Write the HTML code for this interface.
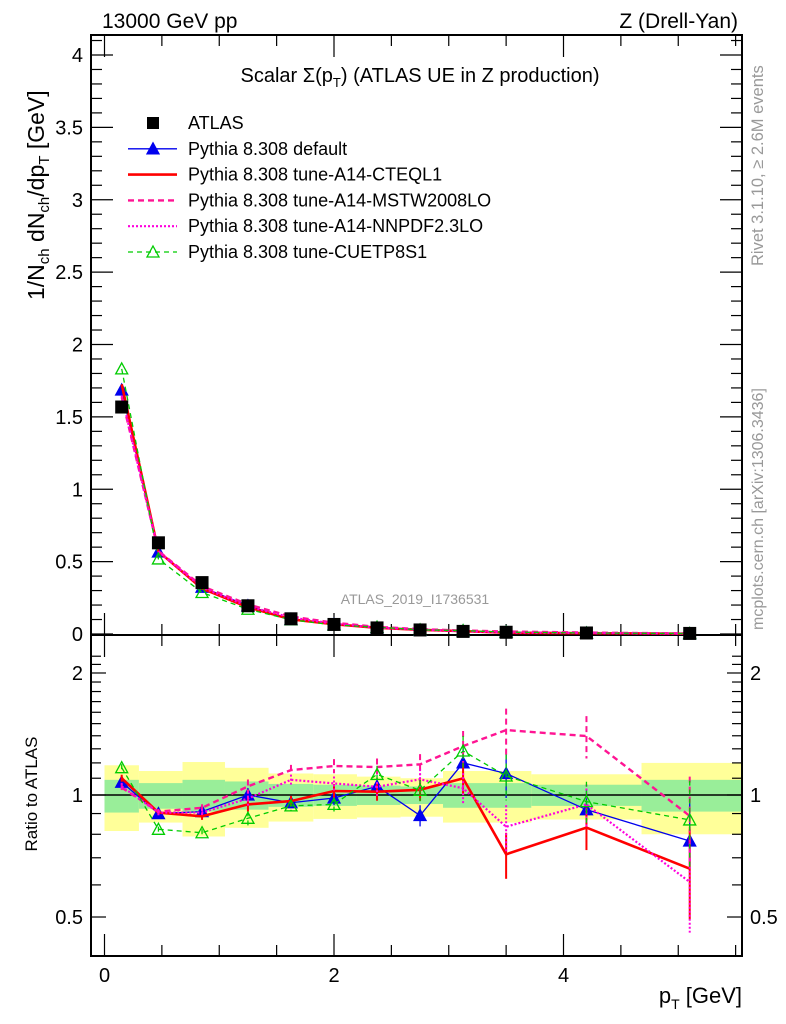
<!DOCTYPE html>
<html><head><meta charset="utf-8"><style>
body{margin:0;background:#fff;}
svg{display:block;font-family:"Liberation Sans","DejaVu Sans",sans-serif;}
</style></head><body>
<svg id="c" width="786" height="1024" viewBox="0 0 786 1024" xmlns="http://www.w3.org/2000/svg">
<text x="102" y="28" font-size="21">13000 GeV pp</text>
<text x="738" y="28" font-size="21" text-anchor="end">Z (Drell-Yan)</text>
<text x="420" y="82" font-size="20" text-anchor="middle">Scalar Σ(p<tspan font-size="13" dy="5">T</tspan><tspan dy="-5">) (ATLAS UE in Z production)</tspan></text>
<text transform="translate(763,266) rotate(-90)" font-size="16.5" fill="#999">Rivet 3.1.10, ≥ 2.6M events</text>
<text transform="translate(763,630) rotate(-90)" font-size="16" fill="#999">mcplots.cern.ch [arXiv:1306.3436]</text>
<text x="415" y="604" font-size="14" fill="#999" text-anchor="middle">ATLAS_2019_I1736531</text>
<text transform="translate(44,300) rotate(-90)" font-size="23">1/N<tspan font-size="15" dy="5">ch</tspan><tspan dy="-5"> dN</tspan><tspan font-size="15" dy="5">ch</tspan><tspan dy="-5">/dp</tspan><tspan font-size="15" dy="5">T</tspan><tspan dy="-5"> [GeV]</tspan></text>
<text transform="translate(37,794) rotate(-90)" font-size="17" text-anchor="middle">Ratio to ATLAS</text>
<text x="742" y="1003" font-size="22" text-anchor="end">p<tspan font-size="14" dy="6">T</tspan><tspan dy="-6"> [GeV]</tspan></text>
<g id="g"></g>
</svg>
<script>
const xVals=[0.15,0.47,0.85,1.25,1.625,2.0,2.375,2.75,3.125,3.5,4.2,5.1];
const atlas=[1.568,0.63,0.355,0.195,0.105,0.066,0.042,0.028,0.018,0.012,0.007,0.004];
const rDefault=[1.075,0.90,0.91,1.0,0.957,0.983,1.05,0.89,1.20,1.13,0.92,0.77];
const rCTEQ=[1.10,0.905,0.886,0.948,0.966,1.023,1.019,1.03,1.099,0.714,0.831,0.658];
const rMSTW=[1.043,0.91,0.93,1.05,1.152,1.179,1.172,1.19,1.32,1.446,1.398,0.888];
const rNNPDF=[1.05,0.905,0.905,0.98,1.09,1.068,1.048,1.093,1.039,0.835,0.948,0.61];
const rCUETP=[1.168,0.823,0.807,0.876,0.94,0.948,1.124,1.027,1.284,1.114,0.963,0.868];
const relErr=[0.02,0.015,0.02,0.04,0.03,0.04,0.05,0.06,0.09,0.13,0.12,0.25];
const binEdges=[0,0.3,0.68,1.05,1.43,1.82,2.2,2.58,2.95,3.72,4.68,5.55];
const bandYellowHi=[1.184,1.146,1.206,1.167,1.13,1.125,1.11,1.10,1.146,1.125,1.2];
const bandYellowLo=[0.815,0.855,0.79,0.83,0.86,0.873,0.88,0.884,0.855,0.87,0.8];
const bandGreenHi=[1.09,1.07,1.09,1.08,1.065,1.06,1.055,1.05,1.07,1.06,1.09];
const bandGreenLo=[0.905,0.925,0.91,0.92,0.935,0.94,0.945,0.95,0.93,0.94,0.91];
const mainTicks=[0,0.5,1,1.5,2,2.5,3,3.5,4];
const mainTickLabels=["0","0.5","1","1.5","2","2.5","3","3.5","4"];
const ratioTicks=[0.5,1,2];
const ratioTickLabels=["0.5","1","2"];
const xTicks=[0,2,4];
const xTickLabels=["0","2","4"];

const L=91,R=742,T=35,MB=635,RB=956;
const X=v=>104.5+v*114.75;
const Y=v=>634-v*144.75;
const YR=v=>795-405.3*Math.log10(v);
const NS="http://www.w3.org/2000/svg";
const g=document.getElementById('g');
function el(t,a,p){const e=document.createElementNS(NS,t);for(const k in a)e.setAttribute(k,a[k]);(p||g).appendChild(e);return e;}

for(let i=0;i<bandYellowHi.length;i++){
 const x0=X(binEdges[i]),x1=Math.min(R,X(binEdges[i+1]));
 const y=el('rect',{x:x0,y:YR(bandYellowHi[i]),width:x1-x0,height:YR(bandYellowLo[i])-YR(bandYellowHi[i]),fill:'#ffff99'});
 
 
 const gr=el('rect',{x:x0,y:YR(bandGreenHi[i]),width:x1-x0,height:YR(bandGreenLo[i])-YR(bandGreenHi[i]),fill:'#99ee99'});
 
 
}
const ref=el('line',{x1:L,x2:R,y1:YR(1),y2:YR(1),stroke:'#000','stroke-width':1.5});



const f1=el('rect',{x:L,y:T,width:R-L,height:MB-T,fill:'none',stroke:'#000','stroke-width':2});


const f2=el('rect',{x:L,y:MB,width:R-L,height:RB-MB,fill:'none',stroke:'#000','stroke-width':2});



for(let v=0;v<=4.15;v+=0.1){
 const vv=Math.round(v*10)/10;const major=Math.abs(vv*2-Math.round(vv*2))<1e-6;const len=major?22:11;const yy=Y(vv);
 el('line',{x1:L,x2:L+len,y1:yy,y2:yy,stroke:'#000','stroke-width':1.2});
 el('line',{x1:R,x2:R-len,y1:yy,y2:yy,stroke:'#000','stroke-width':1.2});
}
mainTicks.forEach((v,i)=>{const t=el('text',{x:83,y:Y(v)+7,'font-size':20,'text-anchor':'end'});t.textContent=mainTickLabels[i];
 
 });
[0.5,0.6,0.7,0.8,0.9,1,1.1,1.2,1.3,1.4,1.5,1.6,1.7,1.8,1.9,2,2.1,2.2].forEach(v=>{
 const major=(v===0.5||v===1||v===2);const len=major?15:10;const yy=YR(v);
 el('line',{x1:L,x2:L+len,y1:yy,y2:yy,stroke:'#000','stroke-width':1.2});
 el('line',{x1:R,x2:R-len,y1:yy,y2:yy,stroke:'#000','stroke-width':1.2});
});
ratioTicks.forEach((v,i)=>{
 const t=el('text',{x:83,y:YR(v)+7,'font-size':20,'text-anchor':'end'});t.textContent=ratioTickLabels[i];
 
 
 const t2=el('text',{x:750,y:YR(v)+7,'font-size':20});t2.textContent=ratioTickLabels[i];
 
 
});
for(let v=0;v<=5.5;v+=0.5){
 const major=Math.abs(v-Math.round(v/2)*2)<1e-6;const len=major?22:11;const xx=X(v);
 el('line',{x1:xx,x2:xx,y1:MB,y2:MB-len,stroke:'#000','stroke-width':1.2});
 el('line',{x1:xx,x2:xx,y1:T,y2:T+len,stroke:'#000','stroke-width':1.2});
 el('line',{x1:xx,x2:xx,y1:RB,y2:RB-len,stroke:'#000','stroke-width':1.2});
 el('line',{x1:xx,x2:xx,y1:MB,y2:MB+len,stroke:'#000','stroke-width':1.2});
}
xTicks.forEach((v,i)=>{const t=el('text',{x:X(v),y:982,'font-size':20,'text-anchor':'middle'});t.textContent=xTickLabels[i];
 
 });

const series=[
 {n:'default',r:rDefault,c:'#0000ee',w:1.3,d:'',m:'tri'},
 {n:'cteql1',r:rCTEQ,c:'#ff0000',w:2.6,d:'',m:'none'},
 {n:'mstw2008lo',r:rMSTW,c:'#ff1493',w:2.4,d:'6,4',m:'none'},
 {n:'nnpdf23lo',r:rNNPDF,c:'#ff00dd',w:2.2,d:'2,2',m:'none'},
 {n:'cuetp8s1',r:rCUETP,c:'#00cc00',w:1.3,d:'5,4',m:'otri'}];
function tri(x,y,c,open,parent){return el('path',{d:`M${x},${y-6}L${x+6},${y+5}L${x-6},${y+5}Z`,fill:open?'none':c,stroke:c,'stroke-width':1.3},parent);}
series.forEach(s=>{
 const gm=el('g',{});
 
 
 const gr=el('g',{});
 
 
 const pm=xVals.map((x,i)=>X(x)+','+Y(atlas[i]*s.r[i])).join(' ');
 el('polyline',{points:pm,fill:'none',stroke:s.c,'stroke-width':s.w,'stroke-dasharray':s.d},gm);
 const pr=xVals.map((x,i)=>X(x)+','+YR(s.r[i])).join(' ');
 el('polyline',{points:pr,fill:'none',stroke:s.c,'stroke-width':s.w,'stroke-dasharray':s.d},gr);
 xVals.forEach((x,i)=>{
  const e=relErr[i]*s.r[i];
  el('line',{x1:X(x),x2:X(x),y1:YR(s.r[i]+e),y2:YR(Math.max(0.45,s.r[i]-e)),stroke:s.c,'stroke-width':s.w>2?2:1.3,'stroke-dasharray':s.d},gr);
  if(s.m==='tri'){tri(X(x),Y(atlas[i]*s.r[i]),s.c,false,gm);tri(X(x),YR(s.r[i]),s.c,false,gr);}
  if(s.m==='otri'){tri(X(x),Y(atlas[i]*s.r[i]),s.c,true,gm);tri(X(x),YR(s.r[i]),s.c,true,gr);}
 });
});
xVals.forEach((x,i)=>{const r=el('rect',{x:X(x)-6.5,y:Y(atlas[i])-6.5,width:13,height:13,fill:'#000'});
 
 });

const leg=[['ATLAS','#000','','sq',0],['Pythia 8.308 default','#0000ee','','tri',1.3],['Pythia 8.308 tune-A14-CTEQL1','#ff0000','','none',2.6],
 ['Pythia 8.308 tune-A14-MSTW2008LO','#ff1493','6,4','none',2.4],['Pythia 8.308 tune-A14-NNPDF2.3LO','#ff00dd','2,2','none',2.2],['Pythia 8.308 tune-CUETP8S1','#00cc00','5,4','otri',1.3]];
leg.forEach((l,i)=>{
 const y=123+i*25.8;
 const lg=el('g',{});
 
 
 if(l[3]==='sq')el('rect',{x:147,y:y-6,width:12,height:12,fill:'#000'},lg);
 else el('line',{x1:128,x2:177,y1:y,y2:y,stroke:l[1],'stroke-width':l[4],'stroke-dasharray':l[2]},lg);
 if(l[3]==='tri')tri(153,y,l[1],false,lg);
 if(l[3]==='otri')tri(153,y,l[1],true,lg);
 const t=el('text',{x:188,y:y+6,'font-size':18},lg);t.textContent=l[0];
});
</script>
</body></html>
